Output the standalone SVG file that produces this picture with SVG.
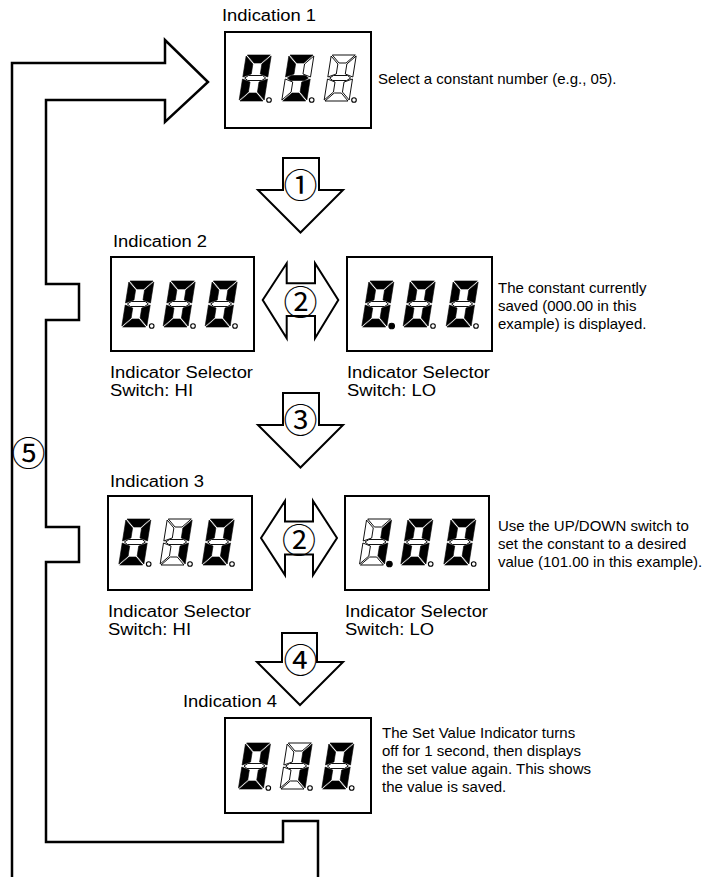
<svg xmlns="http://www.w3.org/2000/svg" width="727" height="877" viewBox="0 0 727 877">
<style>
.box{fill:#fff;stroke:#000;stroke-width:2}
.arr{fill:#fff;stroke:#000;stroke-width:2;stroke-linejoin:miter}
.loop{fill:none;stroke:#000;stroke-width:2.5}
.on{fill:#000;stroke:#000;stroke-width:0.6}
.off{fill:#fff;stroke:#000;stroke-width:0.9}
.dot{fill:#fff;stroke:#000;stroke-width:1.1}
.doton{fill:#000;stroke:#000;stroke-width:1.1}
.lbl{font-family:"Liberation Sans",Arial,sans-serif;font-size:16px;fill:#000}
.desc{font-family:"Liberation Sans",Arial,sans-serif;font-size:15px;fill:#000}
.num{font-family:"Noto Sans CJK JP","DejaVu Sans",sans-serif;font-size:34px;fill:#000;text-anchor:middle;dominant-baseline:central}
</style>
<defs>
<polygon id="sa" points="1,0 24,0 16,8 9,8"/>
<polygon id="sb" points="25,1 25,22 17,19 17,9"/>
<polygon id="sc" points="25,24 25,45 17,37 17,27"/>
<polygon id="sd" points="1,46 24,46 16,38 9,38"/>
<polygon id="se" points="0,24 8,27 8,37 0,45"/>
<polygon id="sf" points="0,1 8,9 8,19 0,22"/>
<polygon id="sg" points="2,23 5.5,20.5 19.5,20.5 23,23 19.5,25.5 5.5,25.5"/>
</defs>

<g id="connectors">
<path class="loop" d="M12,877 V63 H165 V40 L208,82 L165,122 V100 H46 V284 H79 V320 H46 V527 H79 V562 H46 V842 H283 V821 H318 V877"/>
<polygon id="arrow1" class="arr" points="283,158 319,158 319,190 343,190 300.5,232.5 258,190 283,190"/>
<polygon id="arrow3" class="arr" points="283,393 319,393 319,425 343,425 300.5,467.5 258,425 283,425"/>
<polygon id="arrow4" class="arr" points="282,633 317,633 317,662 343,662 300,705 257,662 282,662"/>
<polygon id="arrow2a" class="arr" points="262.7,300 286.7,263.3 286.7,283.3 315,283.3 315,263.3 338.3,300 315,338.3 315,316 286.7,316 286.7,338.3"/>
<polygon id="arrow2b" class="arr" points="261,538 285,501 285,521.5 313,521.5 313,501 337,538 313,575 313,554.5 285,554.5 285,575"/>
<text class="num" x="300.5" y="183">①</text>
<text class="num" x="300.5" y="300">②</text>
<text class="num" x="299" y="538">②</text>
<text class="num" x="300.5" y="418">③</text>
<text class="num" x="300.5" y="658">④</text>
<text class="num" x="28.5" y="451.5">⑤</text>
</g>

<g id="node1">
<text class="lbl" x="222" y="21" textLength="94" lengthAdjust="spacingAndGlyphs">Indication 1</text>
<rect class="box" x="225" y="32" width="146" height="96"/>
<g transform="translate(246.3,55) skewX(-9)"><use href="#sa" class="on"/><use href="#sb" class="on"/><use href="#sc" class="on"/><use href="#sd" class="on"/><use href="#se" class="on"/><use href="#sf" class="on"/><use href="#sg" class="off"/></g>
<circle class="dot" cx="269" cy="100" r="2.3"/>
<g transform="translate(289,55) skewX(-9)"><use href="#sa" class="on"/><use href="#sb" class="off"/><use href="#sc" class="on"/><use href="#sd" class="on"/><use href="#se" class="off"/><use href="#sf" class="on"/><use href="#sg" class="on"/></g>
<circle class="dot" cx="311.7" cy="100" r="2.3"/>
<g transform="translate(331.3,55) skewX(-9)"><use href="#sa" class="off"/><use href="#sb" class="off"/><use href="#sc" class="off"/><use href="#sd" class="off"/><use href="#se" class="off"/><use href="#sf" class="off"/><use href="#sg" class="off"/></g>
<circle class="dot" cx="354" cy="100" r="2.3"/>
<text class="desc" x="378" y="84">Select a constant number (e.g., 05).</text>
</g>

<g id="node2-hi">
<text class="lbl" x="113" y="247" textLength="94" lengthAdjust="spacingAndGlyphs">Indication 2</text>
<rect class="box" x="111" y="257" width="143" height="94"/>
<g transform="translate(129,281) skewX(-9)"><use href="#sa" class="on"/><use href="#sb" class="on"/><use href="#sc" class="on"/><use href="#sd" class="on"/><use href="#se" class="on"/><use href="#sf" class="on"/><use href="#sg" class="off"/></g>
<circle class="dot" cx="151.7" cy="326" r="2.3"/>
<g transform="translate(170.3,281) skewX(-9)"><use href="#sa" class="on"/><use href="#sb" class="on"/><use href="#sc" class="on"/><use href="#sd" class="on"/><use href="#se" class="on"/><use href="#sf" class="on"/><use href="#sg" class="off"/></g>
<circle class="dot" cx="193" cy="326" r="2.3"/>
<g transform="translate(212.3,281) skewX(-9)"><use href="#sa" class="on"/><use href="#sb" class="on"/><use href="#sc" class="on"/><use href="#sd" class="on"/><use href="#se" class="on"/><use href="#sf" class="on"/><use href="#sg" class="off"/></g>
<circle class="dot" cx="235" cy="326" r="2.3"/>
<text class="lbl" x="110" y="378" textLength="143" lengthAdjust="spacingAndGlyphs">Indicator Selector</text>
<text class="lbl" x="110" y="396" textLength="83" lengthAdjust="spacingAndGlyphs">Switch: HI</text>
</g>

<g id="node2-lo">
<rect class="box" x="347" y="257" width="145" height="94"/>
<g transform="translate(369,281) skewX(-9)"><use href="#sa" class="on"/><use href="#sb" class="on"/><use href="#sc" class="on"/><use href="#sd" class="on"/><use href="#se" class="on"/><use href="#sf" class="on"/><use href="#sg" class="off"/></g>
<circle class="doton" cx="391.7" cy="326" r="2.8"/>
<g transform="translate(410.3,281) skewX(-9)"><use href="#sa" class="on"/><use href="#sb" class="on"/><use href="#sc" class="on"/><use href="#sd" class="on"/><use href="#se" class="on"/><use href="#sf" class="on"/><use href="#sg" class="off"/></g>
<circle class="dot" cx="433" cy="326" r="2.3"/>
<g transform="translate(453.3,281) skewX(-9)"><use href="#sa" class="on"/><use href="#sb" class="on"/><use href="#sc" class="on"/><use href="#sd" class="on"/><use href="#se" class="on"/><use href="#sf" class="on"/><use href="#sg" class="off"/></g>
<circle class="dot" cx="476" cy="326" r="2.3"/>
<text class="lbl" x="347" y="378" textLength="143" lengthAdjust="spacingAndGlyphs">Indicator Selector</text>
<text class="lbl" x="347" y="396" textLength="89" lengthAdjust="spacingAndGlyphs">Switch: LO</text>
<text class="desc" x="498" y="293">The constant currently</text>
<text class="desc" x="498" y="311">saved (000.00 in this</text>
<text class="desc" x="498" y="329">example) is displayed.</text>
</g>

<g id="node3-hi">
<text class="lbl" x="110" y="487" textLength="94" lengthAdjust="spacingAndGlyphs">Indication 3</text>
<rect class="box" x="108" y="496" width="144" height="94"/>
<g transform="translate(126,519) skewX(-9)"><use href="#sa" class="on"/><use href="#sb" class="on"/><use href="#sc" class="on"/><use href="#sd" class="on"/><use href="#se" class="on"/><use href="#sf" class="on"/><use href="#sg" class="off"/></g>
<circle class="dot" cx="148.7" cy="564" r="2.3"/>
<g transform="translate(167.3,519) skewX(-9)"><use href="#sa" class="off"/><use href="#sb" class="on"/><use href="#sc" class="on"/><use href="#sd" class="off"/><use href="#se" class="off"/><use href="#sf" class="off"/><use href="#sg" class="off"/></g>
<circle class="dot" cx="190" cy="564" r="2.3"/>
<g transform="translate(209.3,519) skewX(-9)"><use href="#sa" class="on"/><use href="#sb" class="on"/><use href="#sc" class="on"/><use href="#sd" class="on"/><use href="#se" class="on"/><use href="#sf" class="on"/><use href="#sg" class="off"/></g>
<circle class="dot" cx="232" cy="564" r="2.3"/>
<text class="lbl" x="108" y="617" textLength="143" lengthAdjust="spacingAndGlyphs">Indicator Selector</text>
<text class="lbl" x="108" y="635" textLength="83" lengthAdjust="spacingAndGlyphs">Switch: HI</text>
</g>

<g id="node3-lo">
<rect class="box" x="345" y="496" width="144" height="94"/>
<g transform="translate(366.7,519) skewX(-9)"><use href="#sa" class="off"/><use href="#sb" class="on"/><use href="#sc" class="on"/><use href="#sd" class="off"/><use href="#se" class="off"/><use href="#sf" class="off"/><use href="#sg" class="off"/></g>
<circle class="doton" cx="389.4" cy="564" r="2.8"/>
<g transform="translate(408,519) skewX(-9)"><use href="#sa" class="on"/><use href="#sb" class="on"/><use href="#sc" class="on"/><use href="#sd" class="on"/><use href="#se" class="on"/><use href="#sf" class="on"/><use href="#sg" class="off"/></g>
<circle class="dot" cx="430.7" cy="564" r="2.3"/>
<g transform="translate(451,519) skewX(-9)"><use href="#sa" class="on"/><use href="#sb" class="on"/><use href="#sc" class="on"/><use href="#sd" class="on"/><use href="#se" class="on"/><use href="#sf" class="on"/><use href="#sg" class="off"/></g>
<circle class="dot" cx="473.7" cy="564" r="2.3"/>
<text class="lbl" x="345" y="617" textLength="143" lengthAdjust="spacingAndGlyphs">Indicator Selector</text>
<text class="lbl" x="345" y="635" textLength="89" lengthAdjust="spacingAndGlyphs">Switch: LO</text>
<text class="desc" x="498" y="531">Use the UP/DOWN switch to</text>
<text class="desc" x="498" y="549">set the constant to a desired</text>
<text class="desc" x="498" y="567">value (101.00 in this example).</text>
</g>

<g id="node4">
<text class="lbl" x="183" y="707" textLength="94" lengthAdjust="spacingAndGlyphs">Indication 4</text>
<rect class="box" x="225" y="718" width="146" height="95"/>
<g transform="translate(245.6,743) skewX(-9)"><use href="#sa" class="on"/><use href="#sb" class="on"/><use href="#sc" class="on"/><use href="#sd" class="on"/><use href="#se" class="on"/><use href="#sf" class="on"/><use href="#sg" class="off"/></g>
<circle class="dot" cx="268.3" cy="788" r="2.3"/>
<g transform="translate(287.3,743) skewX(-9)"><use href="#sa" class="off"/><use href="#sb" class="on"/><use href="#sc" class="on"/><use href="#sd" class="off"/><use href="#se" class="off"/><use href="#sf" class="off"/><use href="#sg" class="off"/></g>
<circle class="dot" cx="310" cy="788" r="2.3"/>
<g transform="translate(329,743) skewX(-9)"><use href="#sa" class="on"/><use href="#sb" class="on"/><use href="#sc" class="on"/><use href="#sd" class="on"/><use href="#se" class="on"/><use href="#sf" class="on"/><use href="#sg" class="off"/></g>
<circle class="dot" cx="351.7" cy="788" r="2.3"/>
<text class="desc" x="382" y="738">The Set Value Indicator turns</text>
<text class="desc" x="382" y="756">off for 1 second, then displays</text>
<text class="desc" x="382" y="774">the set value again. This shows</text>
<text class="desc" x="382" y="792">the value is saved.</text>
</g>
</svg>
